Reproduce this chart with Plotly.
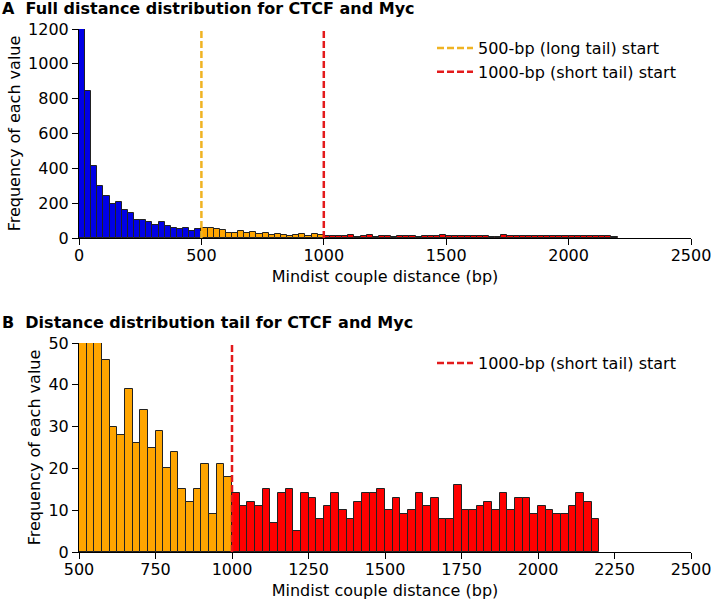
import numpy as np
import plotly.graph_objects as go

# histogram of mindist couple distances, 25-bp bins from 0 to 2200
bin_width = 25
short_counts = [1200, 845, 413, 300, 242, 194, 209, 163, 146, 106,
                102, 92, 75, 92, 67, 60, 52, 60, 40, 52]              # 0-500 bp
long_tail_counts = [57, 58, 53, 46, 30, 28, 39, 26, 34, 25,
                    29, 20, 24, 15, 12, 15, 21, 9, 21, 18]            # 500-1000 bp
short_tail_counts = [14, 11, 12, 11, 15, 7, 14, 15, 5, 14,
                     13, 8, 11, 14, 10, 8, 12, 14, 14, 15,
                     10, 13, 9, 10, 14, 11, 13, 8, 8, 16,
                     10, 10, 11, 12, 10, 14, 10, 13, 13, 9,
                     11, 10, 9, 9, 11, 14, 12, 8]                     # 1000-2200 bp
long_tail_start = 500
short_tail_start = 1000

font = "DejaVu Sans"
blue = "#0000e6"
orange = "#ffa500"
red = "#ff0000"
orange_line = "#f0b323"
red_line = "#e31a1c"

W, H = 713, 601
L, R, T, B = 79, 22, 29, 49


def centers(start, counts):
    return start + bin_width * (np.arange(len(counts)) + 0.5)


def bar(x, y, color, xa, ya):
    return go.Bar(x=x, y=y, width=bin_width, marker=dict(color=color, line=dict(color="#222", width=1)),
                  xaxis=xa, yaxis=ya, showlegend=False)


def px_x(p):
    return (p - L) / (W - L - R)


def px_y(p):
    return (H - B - p) / (H - T - B)


fig = go.Figure()

# panel A
fig.add_trace(bar(centers(0, short_counts), short_counts, blue, "x", "y"))
fig.add_trace(bar(centers(long_tail_start, long_tail_counts), long_tail_counts, orange, "x", "y"))
fig.add_trace(bar(centers(short_tail_start, short_tail_counts), short_tail_counts, red, "x", "y"))
fig.add_trace(go.Scatter(x=[long_tail_start] * 2, y=[0, 1200], mode="lines", xaxis="x", yaxis="y",
                         line=dict(color=orange_line, width=2.5, dash="7px,3px"),
                         name="500-bp (long tail) start", legend="legend"))
fig.add_trace(go.Scatter(x=[short_tail_start] * 2, y=[0, 1200], mode="lines", xaxis="x", yaxis="y",
                         line=dict(color=red_line, width=2.5, dash="7px,3px"),
                         name="1000-bp (short tail) start", legend="legend"))

# panel B
fig.add_trace(bar(centers(long_tail_start, long_tail_counts), long_tail_counts, orange, "x2", "y2"))
fig.add_trace(bar(centers(short_tail_start, short_tail_counts), short_tail_counts, red, "x2", "y2"))
fig.add_trace(go.Scatter(x=[short_tail_start] * 2, y=[0, 50], mode="lines", xaxis="x2", yaxis="y2",
                         line=dict(color=red_line, width=2.5, dash="7px,3px"),
                         name="1000-bp (short tail) start", legend="legend2"))

axis_style = dict(showline=True, linecolor="black", linewidth=1, ticks="outside", ticklen=6,
                  tickcolor="black", showgrid=False, zeroline=False, mirror=False, automargin=False,
                  ticklabeloverflow="allow",
                  tickfont=dict(size=16, color="black"), title_font=dict(size=16, color="black"))
x_style = dict(ticklabelstandoff=-3, title_standoff=6, **axis_style)
y_style = dict(title_standoff=3, **axis_style)

legend_style = dict(xref="paper", yref="paper", xanchor="left", yanchor="top",
                    font=dict(size=16), bgcolor="rgba(0,0,0,0)", itemwidth=36)

fig.update_layout(
    width=W, height=H,
    margin=dict(l=L, r=R, t=T, b=B, autoexpand=False),
    plot_bgcolor="white", paper_bgcolor="white",
    font=dict(family=font, color="black"),
    bargap=0,
    xaxis=dict(domain=[0, 1], anchor="y", range=[0, 2500], tickvals=[0, 500, 1000, 1500, 2000, 2500],
               title_text="Mindist couple distance (bp)", **x_style),
    yaxis=dict(domain=[px_y(238), 1], anchor="x", range=[0, 1200], tickvals=list(range(0, 1201, 200)),
               title_text="Frequency of each value", **y_style),
    xaxis2=dict(domain=[0, 1], anchor="y2", range=[500, 2500], tickvals=list(range(500, 2501, 250)),
                title_text="Mindist couple distance (bp)", **x_style),
    yaxis2=dict(domain=[0, px_y(343)], anchor="x2", range=[0, 50], tickvals=list(range(0, 51, 10)),
                title_text="Frequency of each value", **y_style),
    legend=dict(x=px_x(432), y=px_y(31), **legend_style),
    legend2=dict(x=px_x(432), y=px_y(346), **legend_style),
    annotations=[
        dict(text="<b>A  Full distance distribution for CTCF and Myc</b>", x=px_x(0), y=px_y(9)),
        dict(text="<b>B  Distance distribution tail for CTCF and Myc</b>", x=px_x(0), y=px_y(322)),
    ],
)
fig.update_annotations(xref="paper", yref="paper", showarrow=False, xanchor="left", yanchor="middle",
                       font=dict(size=16, color="black"))

# drop the default page margin so the figure sits at the window corner
fig.write_html("out.html", config={"displayModeBar": False},
               post_script="document.body.style.margin='0';")
